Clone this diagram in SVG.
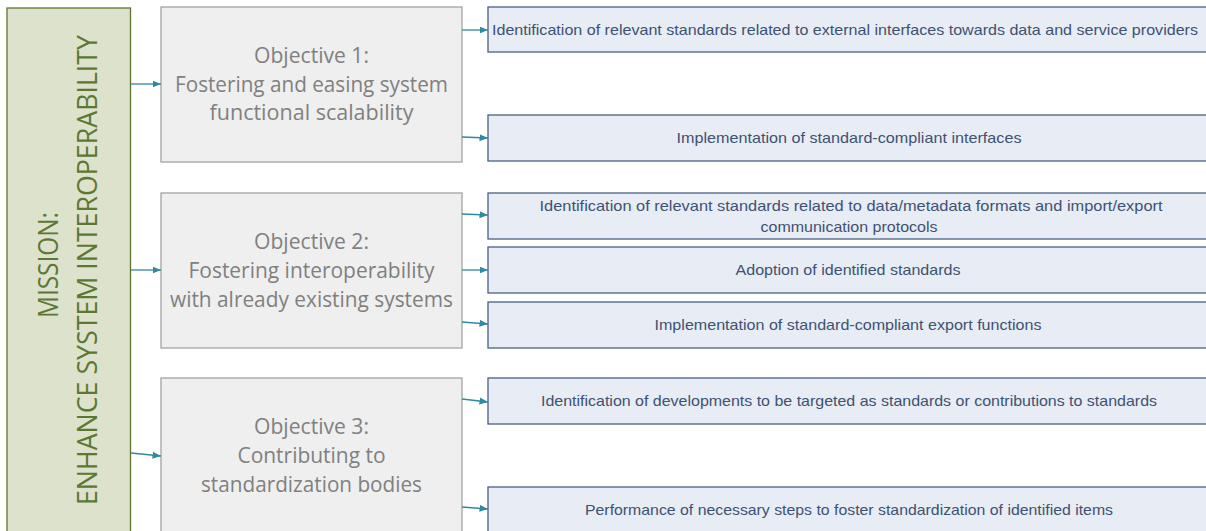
<svg xmlns="http://www.w3.org/2000/svg" width="1206" height="531" viewBox="0 0 1206 531">
<style>
.mission{fill:#dce2cc;stroke:#5f7530;stroke-width:1.3}
.mtxt{font-family:"Open Sans","Liberation Sans",sans-serif;font-size:28px;fill:#5c7833;text-anchor:middle}
.obj{fill:#efefef;stroke:#a3a3a3;stroke-width:1.3}
.otxt{font-family:"Open Sans","Liberation Sans",sans-serif;font-size:21px;fill:#808080;text-anchor:middle}
.task{fill:#e8ecf4;stroke:#4a6182;stroke-width:1.3}
.ttxt{font-family:"Liberation Sans","Open Sans",sans-serif;font-size:14.5px;fill:#3e5273;text-anchor:middle}
.conn{stroke:#2f89a0;stroke-width:1.3;fill:none;marker-end:url(#ah)}
</style>
<defs>
<marker id="ah" markerWidth="9" markerHeight="8" refX="8.5" refY="4" orient="auto" markerUnits="userSpaceOnUse">
<path d="M0,0.5 L8.5,4 L0,7.5 Z" fill="#2f89a0"/>
</marker>
</defs>
<rect width="1206" height="531" fill="#ffffff"/>
<g id="mission">
<rect class="mission" x="7" y="8" width="123.5" height="540"/>
<text class="mtxt" transform="translate(58,265) rotate(-90)" textLength="106" lengthAdjust="spacingAndGlyphs">MISSION:</text>
<text class="mtxt" transform="translate(97,270) rotate(-90)" textLength="470" lengthAdjust="spacingAndGlyphs">ENHANCE SYSTEM INTEROPERABILITY</text>
</g>
<g id="objective1">
<rect class="obj" x="161" y="7" width="301" height="155"/>
<text class="otxt" x="311.5" y="63" textLength="115" lengthAdjust="spacingAndGlyphs">Objective 1:</text>
<text class="otxt" x="311.5" y="92" textLength="273" lengthAdjust="spacingAndGlyphs">Fostering and easing system</text>
<text class="otxt" x="311.5" y="120" textLength="204" lengthAdjust="spacingAndGlyphs">functional scalability</text>
</g>
<g id="objective2">
<rect class="obj" x="161" y="193" width="301" height="155"/>
<text class="otxt" x="311.5" y="249" textLength="115" lengthAdjust="spacingAndGlyphs">Objective 2:</text>
<text class="otxt" x="311.5" y="278" textLength="246" lengthAdjust="spacingAndGlyphs">Fostering interoperability</text>
<text class="otxt" x="311.5" y="307" textLength="283" lengthAdjust="spacingAndGlyphs">with already existing systems</text>
</g>
<g id="objective3">
<rect class="obj" x="161" y="378" width="301" height="160"/>
<text class="otxt" x="311.5" y="434" textLength="115" lengthAdjust="spacingAndGlyphs">Objective 3:</text>
<text class="otxt" x="311.5" y="463" textLength="148" lengthAdjust="spacingAndGlyphs">Contributing to</text>
<text class="otxt" x="311.5" y="492" textLength="221" lengthAdjust="spacingAndGlyphs">standardization bodies</text>
</g>
<g id="task1">
<rect class="task" x="488" y="7" width="722" height="45"/>
<text class="ttxt" x="845" y="35" textLength="706" lengthAdjust="spacingAndGlyphs">Identification of relevant standards related to external interfaces towards data and service providers</text>
</g>
<g id="task2">
<rect class="task" x="488" y="115" width="722" height="46"/>
<text class="ttxt" x="849" y="143" textLength="345" lengthAdjust="spacingAndGlyphs">Implementation of standard-compliant interfaces</text>
</g>
<g id="task3">
<rect class="task" x="488" y="193" width="722" height="46"/>
<text class="ttxt" x="851" y="211" textLength="623" lengthAdjust="spacingAndGlyphs">Identification of relevant standards related to data/metadata formats and import/export</text>
<text class="ttxt" x="849" y="232" textLength="177" lengthAdjust="spacingAndGlyphs">communication protocols</text>
</g>
<g id="task4">
<rect class="task" x="488" y="247" width="722" height="46"/>
<text class="ttxt" x="848" y="275" textLength="225" lengthAdjust="spacingAndGlyphs">Adoption of identified standards</text>
</g>
<g id="task5">
<rect class="task" x="488" y="302" width="722" height="46"/>
<text class="ttxt" x="848" y="330" textLength="387" lengthAdjust="spacingAndGlyphs">Implementation of standard-compliant export functions</text>
</g>
<g id="task6">
<rect class="task" x="488" y="378" width="722" height="46"/>
<text class="ttxt" x="849" y="406" textLength="616" lengthAdjust="spacingAndGlyphs">Identification of developments to be targeted as standards or contributions to standards</text>
</g>
<g id="task7">
<rect class="task" x="488" y="487" width="722" height="50"/>
<text class="ttxt" x="849" y="515" textLength="528" lengthAdjust="spacingAndGlyphs">Performance of necessary steps to foster standardization of identified items</text>
</g>
<g id="connectors">
<path class="conn" d="M131,84 L161,84"/>
<path class="conn" d="M131,270 L161,270"/>
<path class="conn" d="M131,453 L161,456"/>
<path class="conn" d="M462,30 L488,30"/>
<path class="conn" d="M462,137 L488,138"/>
<path class="conn" d="M462,214 L488,215"/>
<path class="conn" d="M462,270 L488,270"/>
<path class="conn" d="M462,322 L488,324"/>
<path class="conn" d="M462,399 L488,402"/>
<path class="conn" d="M462,507 L488,509"/>
</g>
</svg>
